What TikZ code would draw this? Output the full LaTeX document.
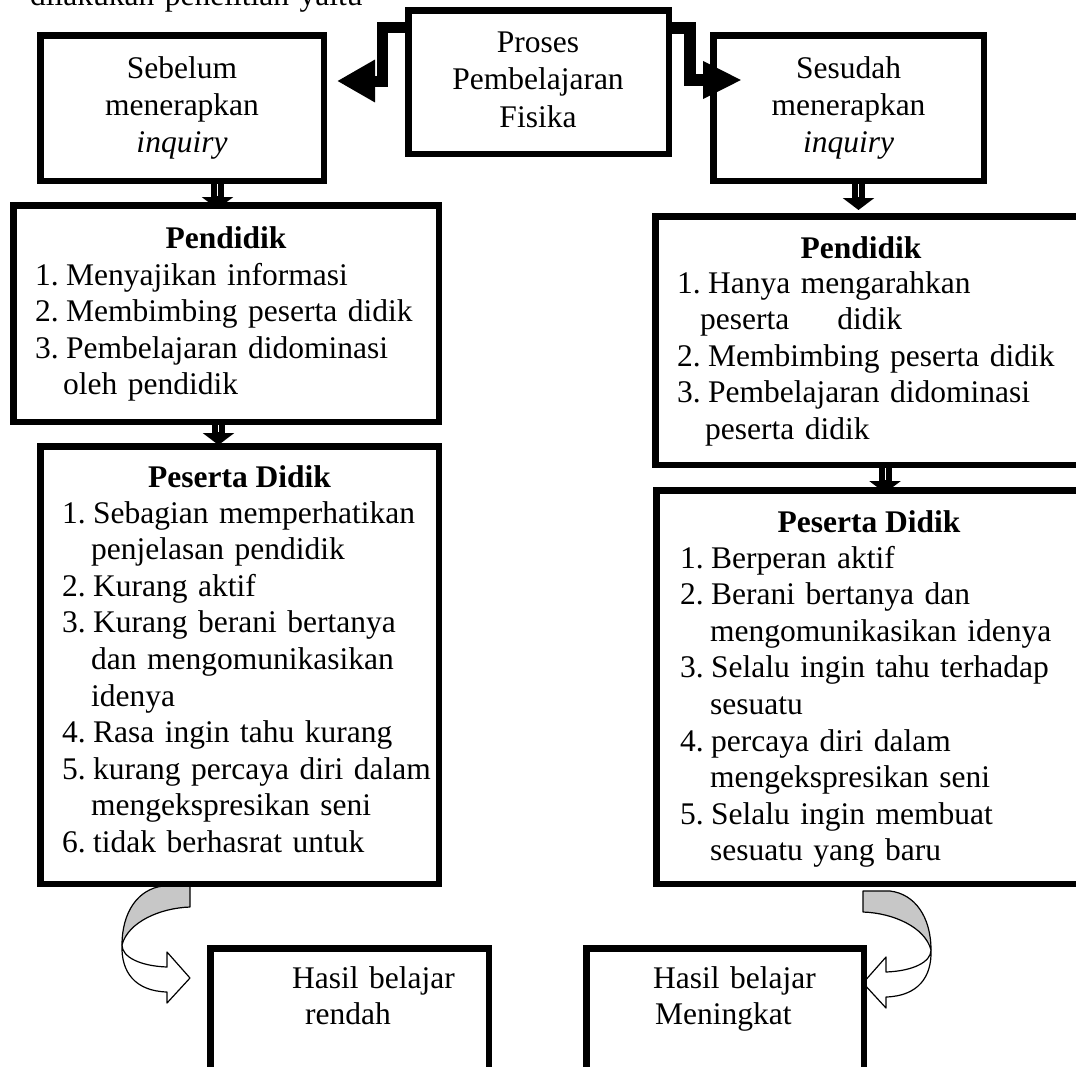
\documentclass[tikz,border=0pt]{standalone}
\usepackage{fontspec}
\setmainfont{Liberation Serif}
\usetikzlibrary{arrows.meta,calc}
\pgfdeclarelayer{bg}
\pgfsetlayers{bg,main}
\newcommand\mycurv{%
  \filldraw[bent, fill=black!22] (163,886) -- (190,886) -- (190,907)
     .. controls (160,908) and (128,922) .. (122,945)
     .. controls (122,912) and (138,889) .. (163,886) -- cycle;
  \filldraw[bent, fill=white] (122,945)
     .. controls (122,957) and (140,966) .. (167,967)
     -- (167,952) -- (190,978) -- (167,1003) -- (167,992)
     .. controls (135,991) and (121,972) .. (122,945) -- cycle;
}
\begin{document}
\begin{tikzpicture}[x=1pt,y=-1pt,
  box/.style={draw=black, line width=6.5pt, fill=white, inner sep=0pt, rectangle},
  txt/.style={inner sep=0pt, font=\fontsize{31.5}{36.6}\selectfont, align=left, anchor=base west, text width=#1},
  ctxt/.style={inner sep=0pt, font=\fontsize{31.5}{37.2}\selectfont, align=center, anchor=base, text width=#1},
  head/.style={inner sep=0pt, font=\fontsize{31.5}{36.6}\selectfont\bfseries, anchor=base},
  dnarr/.style={draw=black, line width=13pt, -{Triangle[width=31pt,length=12pt]}},
  midline/.style={draw=white, line width=0.7pt},
  elbowL/.style={draw=black, line width=11pt, -{Triangle[width=40pt,length=38pt]}},
  elbowR/.style={draw=black, line width=12pt, -{Triangle[width=35pt,length=39pt]}},
  bent/.style={draw=black, line width=1.2pt, line join=round},
]
\useasboundingbox (0,0) rectangle (1076,1066);

% ---- boxes ----
\node[box, minimum width=260.5pt, minimum height=143.5pt] (proses) at (538.5,82) {};
\node[box, minimum width=283.5pt, minimum height=145.5pt] (sebelum) at (182,108) {};
\node[box, minimum width=270.5pt, minimum height=145.5pt] (sesudah) at (848.5,108) {};
\node[box, minimum width=425.5pt, minimum height=216.5pt] (pend1) at (226,313.5) {};
\node[box, minimum width=436.5pt, minimum height=248.5pt] (pend2) at (873.5,340.5) {};
\node[box, minimum width=398.5pt, minimum height=437.5pt] (pes1) at (239.5,665) {};
\node[box, minimum width=435.5pt, minimum height=393.5pt] (pes2) at (874,687) {};
\node[box, minimum width=278.5pt, minimum height=148.5pt] (has1) at (349.5,1022.5) {};
\node[box, minimum width=277.5pt, minimum height=148.5pt] (has2) at (725,1022.5) {};

% ---- texts ----
\node[txt=400pt] (intro) at (30,5) {dilakukan penelitian yaitu};
\node[ctxt=250pt, font=\fontsize{31.5}{37.5}\selectfont] (tproses) at (538,52) {Proses\\Pembelajaran\\Fisika};
\node[ctxt=270pt] (tsebelum) at (182,78) {Sebelum\\menerapkan\\\textit{inquiry}};
\node[ctxt=260pt] (tsesudah) at (848.5,78) {Sesudah\\menerapkan\\\textit{inquiry}};

\node[head] (hpend1) at (226,248) {Pendidik};
\node[txt=405pt] (ipend1) at (35,285) {%
\makebox[31pt][l]{1.}Menyajikan informasi\\
\makebox[31pt][l]{2.}Membimbing peserta didik\\
\makebox[31pt][l]{3.}Pembelajaran didominasi\\
\hspace*{28pt}oleh pendidik};

\node[head] (hpes1) at (239.5,487) {Peserta Didik};
\node[txt=375pt] (ipes1) at (62,523) {%
\makebox[31pt][l]{1.}Sebagian memperhatikan\\
\hspace*{29pt}penjelasan pendidik\\
\makebox[31pt][l]{2.}Kurang aktif\\
\makebox[31pt][l]{3.}Kurang berani bertanya\\
\hspace*{29pt}dan mengomunikasikan\\
\hspace*{29pt}idenya\\
\makebox[31pt][l]{4.}Rasa ingin tahu kurang\\
\makebox[31pt][l]{5.}kurang percaya diri dalam\\
\hspace*{29pt}mengekspresikan seni\\
\makebox[31pt][l]{6.}tidak berhasrat untuk};

\node[head] (hpend2) at (861,258) {Pendidik};
\node[txt=395pt] (ipend2) at (677,293) {%
\makebox[31pt][l]{1.}Hanya mengarahkan\\
\hspace*{23pt}peserta\hspace{48pt}didik\\
\makebox[31pt][l]{2.}Membimbing peserta didik\\
\makebox[31pt][l]{3.}Pembelajaran didominasi\\
\hspace*{28pt}peserta didik};

\node[head] (hpes2) at (869,532) {Peserta Didik};
\node[txt=395pt] (ipes2) at (680,568) {%
\makebox[31pt][l]{1.}Berperan aktif\\
\makebox[31pt][l]{2.}Berani bertanya dan\\
\hspace*{30pt}mengomunikasikan idenya\\
\makebox[31pt][l]{3.}Selalu ingin tahu terhadap\\
\hspace*{30pt}sesuatu\\
\makebox[31pt][l]{4.}percaya diri dalam\\
\hspace*{30pt}mengekspresikan seni\\
\makebox[31pt][l]{5.}Selalu ingin membuat\\
\hspace*{30pt}sesuatu yang baru};

\node[txt=200pt] (thas1) at (292,988) {Hasil belajar\\\hspace*{13pt}rendah};
\node[txt=200pt] (thas2) at (653,988) {Hasil belajar\\\hspace*{2pt}Meningkat};

% ---- elbow connectors (drawn over the boxes) ----
\coordinate (lc) at (382.5,81);
\coordinate (lt) at (337,81);
\coordinate (rc) at (690,80);
\coordinate (rt) at (742,80);
\draw[elbowL] ([yshift=-20.5pt]proses.north west) -| (lc) -- (lt);
\draw[elbowR] ([yshift=-20.5pt]proses.north east) -| (rc) -- (rt);

% ---- down connectors (behind the boxes) ----
\begin{pgfonlayer}{bg}
\fill[white] (0,0) rectangle (1076,1066);
\coordinate (a1s) at ($(sebelum.south)+(35.5,-2)$);
\coordinate (a1e) at ($(sebelum.south |- pend1.north)+(35.5,7)$);
\coordinate (a2s) at ($(pend1.south)+(-7.5,-2)$);
\coordinate (a2e) at ($(pend1.south |- pes1.north)+(-7.5,2)$);
\coordinate (a3s) at ($(sesudah.south)+(10,-2)$);
\coordinate (a3e) at ($(sesudah.south |- pend2.north)+(10,-3)$);
\coordinate (a4s) at ($(pend2.south)+(11.5,-2)$);
\coordinate (a4e) at ($(pend2.south |- pes2.north)+(11.5,6)$);
\foreach \a in {1,2,3,4}{
  \draw[dnarr] (a\a s) -- (a\a e);
  \draw[midline] (a\a s) -- ([yshift=13pt]a\a e);
}

\mycurv
\begin{scope}[shift={(1053,5)}, xscale=-1]
\mycurv
\end{scope}
\end{pgfonlayer}
\end{tikzpicture}
\end{document}
